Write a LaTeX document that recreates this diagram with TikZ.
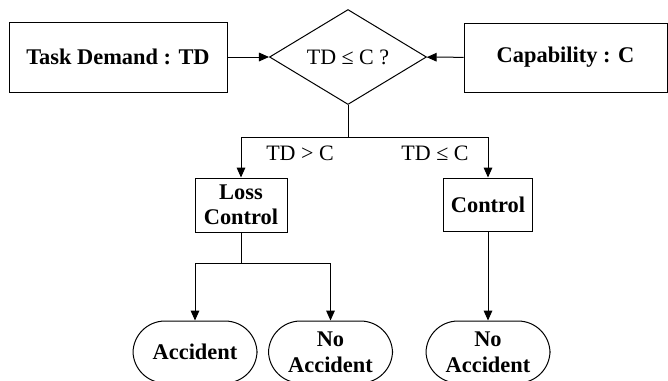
\documentclass[tikz,border=0pt]{standalone}
\usepackage{fontspec}
\setmainfont{Liberation Serif}
\usetikzlibrary{shapes.geometric,arrows.meta,positioning}
\tikzset{
  blk/.style={draw, fill=white, inner sep=0pt, align=center, font=\fontsize{16.8}{19}\selectfont\bfseries},
  dec/.style={draw, diamond, aspect=1.65, inner sep=0pt, minimum width=117.75pt, minimum height=71.25pt, font=\fontsize{16.5}{19}\selectfont},
  term/.style={draw, rounded corners=24pt, inner sep=0pt, align=center, minimum width=93pt, minimum height=46.5pt, font=\fontsize{16.8}{19.5}\selectfont\bfseries},
  arr/.style={-{Triangle[length=7.5pt,width=6.5pt]}},
}
\begin{document}
\begin{tikzpicture}[line width=0.75pt, x=0.75pt, y=-0.75pt]
  \clip (0,0) rectangle (668,380);
  \node[blk, minimum width=163.5pt, minimum height=52.5pt] (task) at (118,57) {Task Demand : TD};
  \node[dec] (chk) at (348,57) {TD ≤ C ?};
  \node[blk, minimum width=152.25pt, minimum height=51.75pt] (cap) at (565.5,57.5) {Capability : C};
  \node[blk, minimum width=69pt, minimum height=40.5pt] (loss) at (241,205) {Loss\\Control};
  \node[blk, minimum width=66.75pt, minimum height=39.75pt] (ctrl) at (488,204.5) {Control};
  \node[term] (acc) at (195,352) {Accident};
  \node[term] (noa) at (330.5,352) {No\\Accident};
  \node[term] (nob) at (488,352) {No\\Accident};
  \node[font=\fontsize{16.5}{19}\selectfont] (gt) at (300,153) {TD > C};
  \node[font=\fontsize{16.5}{19}\selectfont] (le) at (435,153) {TD ≤ C};
  % inputs to the check
  \draw[arr] (task) -- (chk);
  \draw[arr] (cap) -- (chk);
  % the two outcomes
  \draw[arr] (chk.south) -- ++(0,32) -| (loss.north);
  \draw[arr] (chk.south) -- ++(0,32) -| (ctrl.north);
  \draw[arr] (loss.south) -- ++(0,31) -| (acc.north);
  \draw[arr] (loss.south) -- ++(0,31) -| (noa.north);
  \draw[arr] (ctrl.south) -- (nob.north);
\end{tikzpicture}
\end{document}
